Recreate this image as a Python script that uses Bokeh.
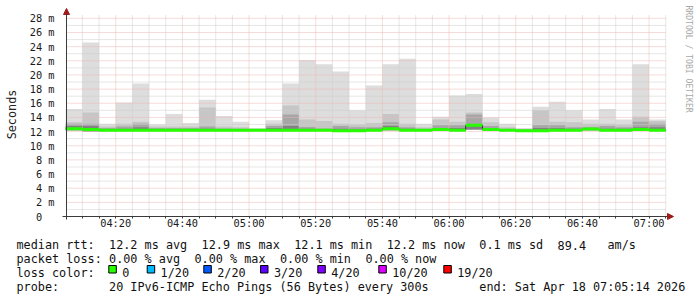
from math import pi
from bokeh.plotting import figure
from bokeh.models import (Range1d, FixedTicker, CustomJSTickFormatter, Label,
                          Arrow, NormalHead, BoxAnnotation)
from bokeh.embed import file_html
from bokeh.resources import INLINE

# ---------------- data ----------------
bucket_start = ["04:05", "04:10", "04:15", "04:20", "04:25", "04:30", "04:35", "04:40", "04:45",
                "04:50", "04:55", "05:00", "05:05", "05:10", "05:15", "05:20", "05:25", "05:30",
                "05:35", "05:40", "05:45", "05:50", "05:55", "06:00", "06:05", "06:10", "06:15",
                "06:20", "06:25", "06:30", "06:35", "06:40", "06:45", "06:50", "06:55", "07:00"]
step_minutes = 5
view_start = "04:05:14"
view_end = "07:05:14"

# smoke: sorted ping spread per 5-minute bucket (ms)
ping_max = [15.2, 24.6, 13.1, 16.1, 18.8, 13.0, 14.5, 13.2, 16.5, 14.2, 13.4, 12.5,
            13.6, 18.8, 22.1, 21.5, 20.5, 15.0, 18.5, 21.5, 22.3, 13.1, 14.1, 17.1,
            17.3, 14.0, 13.1, 12.5, 15.5, 16.2, 15.0, 13.7, 15.2, 13.7, 21.5, 13.7]
ping_hi2 = [13.3, 14.7, 12.7, 13.1, 13.4, 12.7, 12.7, 12.7, 15.4, 12.7, 12.6, 12.35,
            13.1, 15.7, 13.7, 13.5, 13.1, 13.0, 13.2, 14.5, 13.1, 12.6, 13.7, 13.4,
            14.7, 13.3, 12.6, 12.35, 15.0, 13.4, 13.3, 13.1, 13.1, 13.0, 14.1, 13.5]
ping_hi3 = [13.1, 13.1, 12.5, 12.7, 13.1, 12.5, 12.5, 12.5, 12.7, 12.45, 12.4, 12.3,
            12.8, 14.4, 12.65, 12.45, 12.8, 12.6, 12.6, 13.3, 12.6, 12.4, 12.9, 12.9,
            14.4, 12.8, 12.4, 12.3, 12.9, 12.9, 12.6, 12.65, 12.8, 12.6, 13.4, 13.1]
ping_hi4 = [12.8, 12.8, 12.35, 12.4, 12.6, 12.3, 12.3, 12.3, 12.4, 12.3, 12.3, 12.25,
            12.5, 12.8, 12.4, 12.3, 12.4, 12.3, 12.4, 12.8, 12.4, 12.3, 12.5, 12.5,
            13.0, 12.5, 12.3, 12.2, 12.5, 12.5, 12.4, 12.45, 12.4, 12.4, 12.6, 12.6]
ping_min = [12.2, 12.0, 12.1, 12.1, 12.1, 12.1, 12.1, 12.1, 12.1, 12.1, 12.1, 12.1,
            12.1, 12.1, 12.1, 12.1, 12.0, 12.0, 12.1, 12.2, 12.1, 12.1, 12.1, 12.1,
            12.3, 12.2, 12.1, 12.0, 12.0, 12.1, 12.1, 12.2, 12.1, 12.1, 12.2, 12.1]
median_rtt = [12.4, 12.3, 12.2, 12.2, 12.2, 12.2, 12.2, 12.2, 12.2, 12.2, 12.2, 12.2,
              12.2, 12.2, 12.2, 12.2, 12.1, 12.1, 12.2, 12.4, 12.2, 12.2, 12.3, 12.2,
              12.9, 12.3, 12.2, 12.1, 12.1, 12.2, 12.2, 12.35, 12.2, 12.2, 12.3, 12.2]

y_ticks = [0, 2, 4, 6, 8, 10, 12, 14, 16, 18, 20, 22, 24, 26, 28]
y_minor_ticks = [1, 3, 5, 7, 9, 11, 13, 15, 17, 19, 21, 23, 25, 27]
x_tick_labels = ["04:20", "04:40", "05:00", "05:20", "05:40", "06:00", "06:20", "06:40", "07:00"]

loss_levels = ["0", "1/20", "2/20", "3/20", "4/20", "10/20", "19/20"]
loss_colors = ["#26ff00", "#00b8ff", "#0059ff", "#5e00ff", "#7e00ff", "#dd00ff", "#ff0000"]

row_median = [("median rtt:", 0), ("12.2 ms avg", 13), ("12.9 ms max", 26), ("12.1 ms min", 39),
              ("12.2 ms now", 52), ("0.1 ms sd", 65), ("89.4", 76), ("am/s", 83)]
row_loss = [("packet loss:", 0), ("0.00 % avg", 13), ("0.00 % max", 25), ("0.00 % min", 37),
            ("0.00 % now", 49)]
row_probe = [("probe:", 0), ("20 IPv6-ICMP Echo Pings (56 Bytes) every 300s", 13),
             ("end: Sat Apr 18 07:05:14 2026", 65)]


def to_min(s):
    parts = [float(v) for v in s.split(":")]
    return parts[0] * 60 + parts[1] + (parts[2] / 60 if len(parts) > 2 else 0)


x0, x1 = to_min(view_start), to_min(view_end)
Y_TOP = 28.4

# ---------------- layout constants (pixels) ----------------
FL, FR, FT, FB = 66, 666, 15, 216          # plot area edges
W, H = 697, 297


def X(px):
    return x0 + (px - FL) * (x1 - x0) / (FR - FL)


def Y(py):
    return (FB - py) * Y_TOP / (FB - FT)


PX_PER_MS = (FB - FT) / Y_TOP

p = figure(width=W, height=H, output_backend="svg", toolbar_location=None, title=None,
           x_range=Range1d(X(0), X(W)), y_range=Range1d(Y(H), Y(0)),
           min_border_left=0, min_border_right=0, min_border_top=0, min_border_bottom=0)
p.background_fill_color = "white"
p.border_fill_color = "white"
p.outline_line_color = None
p.xgrid.visible = False
p.ygrid.visible = False

# ---------------- smoke ----------------
edges = [to_min(s) for s in bucket_start]
edges = edges + [edges[-1] + step_minutes]


def ext(a):
    return list(a) + [a[-1]]


layers = [(ping_max, "#dddddd"), (ping_hi2, "#c6c6c6"), (ping_hi3, "#a6a6a6"), (ping_hi4, "#828282")]
for top, col in layers:
    p.varea_step(x=edges, y1=ext(ping_min), y2=ext(top), step_mode="after",
                 fill_color=col, fill_alpha=1)

# ---------------- grid (drawn over the smoke, as rrdtool does) ----------------
x_major = [to_min(s) for s in x_tick_labels]
x_minor = [t for t in range(int(edges[1]), int(x1) + 1, step_minutes) if t not in x_major]

MAJ_COL = "#efb6b6"
MIN_COL = "#cdcdcd"
p.segment(x0=x_minor, x1=x_minor, y0=[0] * len(x_minor), y1=[Y_TOP] * len(x_minor),
          line_color=MIN_COL, line_dash="1 1", line_width=1)
p.segment(x0=[x0] * len(y_minor_ticks), x1=[x1] * len(y_minor_ticks), y0=y_minor_ticks,
          y1=y_minor_ticks, line_color=MIN_COL, line_dash="1 1", line_width=1)
p.segment(x0=x_major, x1=x_major, y0=[0] * len(x_major), y1=[Y_TOP] * len(x_major),
          line_color=MAJ_COL, line_dash="1 1", line_width=1)
p.segment(x0=[x0] * len(y_ticks[1:]), x1=[x1] * len(y_ticks[1:]), y0=y_ticks[1:], y1=y_ticks[1:],
          line_color=MAJ_COL, line_dash="1 1", line_width=1)

# ---------------- median line coloured by loss ----------------
p.step(x=edges, y=ext(median_rtt), mode="after", line_color="#1e1e1e", line_width=1)
hw = 1.5 / PX_PER_MS
p.varea_step(x=edges, y1=ext([m - hw for m in median_rtt]), y2=ext([m + hw for m in median_rtt]),
             step_mode="after", fill_color=loss_colors[0], fill_alpha=1)

# ---------------- axes ----------------
xt = FixedTicker(ticks=x_major, minor_ticks=x_minor)
yt = FixedTicker(ticks=y_ticks, minor_ticks=y_minor_ticks)
p.xaxis.fixed_location = 0
p.yaxis.fixed_location = x0
p.xaxis.ticker = xt
p.yaxis.ticker = yt
p.xaxis.formatter = CustomJSTickFormatter(code="""
const h = Math.floor(tick / 60), m = Math.round(tick - h * 60);
return String(h).padStart(2, '0') + ':' + String(m).padStart(2, '0');""")
p.yaxis.formatter = CustomJSTickFormatter(code="""
return tick == 0 ? '0\\u00a0\\u00a0' : tick + ' m';""")

AX_COL = "#3a3a3a"
for ax in (p.xaxis[0], p.yaxis[0]):
    ax.axis_line_color = None
    ax.major_label_text_font = "DejaVu Sans Mono"
    ax.major_label_text_font_size = "10.3px"
    ax.major_label_text_color = "#1a1a1a"
p.yaxis.major_tick_line_color = None
p.yaxis.minor_tick_line_color = None
p.yaxis.major_label_standoff = 6
p.xaxis.major_tick_line_color = AX_COL
p.xaxis.minor_tick_line_color = AX_COL
p.xaxis.major_tick_in = 0
p.xaxis.minor_tick_in = 0
p.xaxis.major_tick_out = 2
p.xaxis.minor_tick_out = 2
p.xaxis.major_label_standoff = -2

RED = "#a01c1c"
p.add_layout(Arrow(end=NormalHead(size=6, fill_color=RED, line_color=RED),
                   x_start=X(FL), y_start=Y(FB + 3), x_end=X(FL), y_end=Y(8),
                   line_color=AX_COL, line_width=1))
p.add_layout(Arrow(end=NormalHead(size=6, fill_color=RED, line_color=RED),
                   x_start=X(FL - 4), y_start=0, x_end=X(673), y_end=0,
                   line_color=AX_COL, line_width=1))

# ---------------- texts ----------------
p.add_layout(Label(x=X(11.5), y=Y(114), text="Seconds", angle=pi / 2, text_align="center",
                   text_baseline="middle", text_font="DejaVu Sans Mono", text_font_size="11.8px",
                   text_color="#222222"))
p.add_layout(Label(x=X(688), y=Y(5), text="RRDTOOL / TOBI OETIKER", angle=-pi / 2,
                   text_align="left", text_baseline="middle", text_font="DejaVu Sans Mono",
                   text_font_size="8.1px", text_color="#a8a8a8"))

ADV = 7.12
LX = 16
FS = "11.8px"
TXT = "#111111"


def put(text, px, py):
    p.add_layout(Label(x=X(px), y=Y(py), text=text, text_align="left", text_baseline="alphabetic",
                       text_font="DejaVu Sans Mono", text_font_size=FS, text_color=TXT))


for text, idx in row_median:
    put(text, LX + idx * ADV, 244.5)
for text, idx in row_loss:
    put(text, LX + idx * ADV, 258.5)
put("loss color:", LX, 272.3)
box_x = [108.3, 146.7, 203.3, 260.0, 317.3, 378.3, 443.3]
for bx, lvl, col in zip(box_x, loss_levels, loss_colors):
    p.add_layout(BoxAnnotation(left=X(bx), right=X(bx + 7.5), bottom=Y(272.5), top=Y(265),
                               fill_color=col, fill_alpha=1, line_color="black", line_alpha=1,
                               line_width=1))
    put(lvl, bx + 13.4, 272.3)
for text, idx in row_probe:
    put(text, LX + idx * ADV, 286.2)

open("out.html", "w").write(file_html(p, INLINE))
